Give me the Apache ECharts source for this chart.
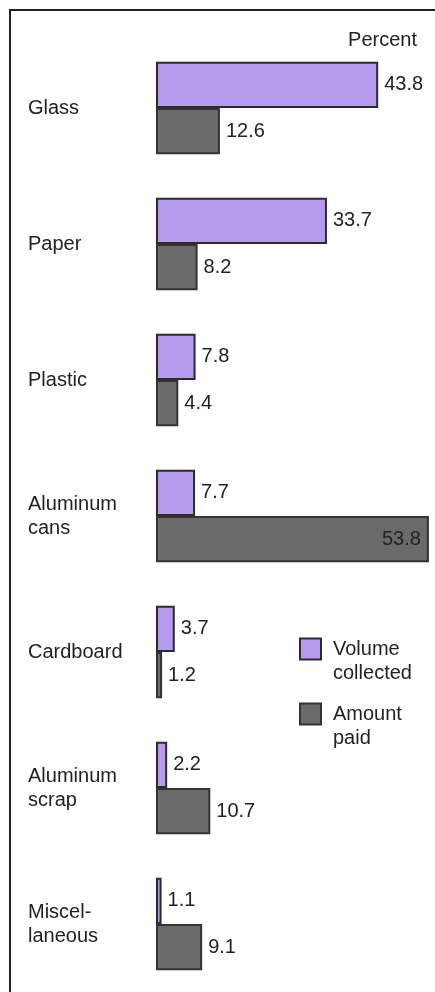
<!DOCTYPE html>
<html>
<head>
<meta http-equiv="content-type" content="text/html; charset=utf-8"/>
<title>Recycling: volume collected vs amount paid</title>
<style type="text/css">body,html{width:100%;height:100%;margin:0;background:#fff}#chart{width:435px;height:992px}</style>
<script src="https://cdn.jsdelivr.net/npm/echarts@6/dist/echarts.min.js"></script>
</head>
<body>
<div id="chart"></div>
<script>
	// categories, top to bottom
	var categories = ['Glass', 'Paper', 'Plastic', 'Aluminum\ncans', 'Cardboard', 'Aluminum\nscrap', 'Miscel-\nlaneous'];
	var seriesNames = ['Volume collected', 'Amount paid'];
	var volume = [43.8, 33.7, 7.8, 7.7, 3.7, 2.2, 1.1];
	var paid = [12.6, 8.2, 4.4, 53.8, 1.2, 10.7, 9.1];

	var font = 'Liberation Sans';
	var fs = 20;
	var chart = echarts.init(document.getElementById('chart'));

	// the long bar gets its label inside
	var paidData = paid.map(function (v) {
		return v > 50 ? {value: v, label: {position: 'insideRight', distance: 8}} : v;
	});

	var option = {
		animation: false,
		title: {
			text: 'Percent',
			right: 18, top: 30, padding: 0,
			textStyle: {fontFamily: font, fontSize: fs, fontWeight: 'normal', color: '#222'}
		},
		legend: {
			orient: 'vertical',
			left: 294, top: 608,
			icon: 'rect',
			itemWidth: 21, itemHeight: 21,
			itemGap: -7,
			// blank first line keeps the icon beside the first word
			formatter: function (name) { return '\n' + name.replace(' ', '\n'); },
			textStyle: {fontFamily: font, fontSize: fs, color: '#222', lineHeight: 24, padding: [0, 0, 0, 7]}
		},
		grid: {left: 156, right: 0, top: 40, bottom: 0},
		xAxis: {type: 'value', min: 0, max: 55, show: false},
		yAxis: {
			type: 'category',
			data: categories,
			inverse: true,
			axisLine: {show: false},
			axisTick: {show: false},
			axisLabel: {align: 'left', margin: 128, fontFamily: font, fontSize: fs, color: '#222', lineHeight: 24}
		},
		series: [
			{
				name: seriesNames[0], type: 'bar', data: volume,
				barGap: '0%', barCategoryGap: '32%',
				itemStyle: {color: '#b69af0', borderColor: '#2b2b2b', borderWidth: 2},
				label: {show: true, position: 'right', distance: 6, fontFamily: font, fontSize: fs, color: '#222'}
			},
			{
				name: seriesNames[1], type: 'bar', data: paidData,
				itemStyle: {color: '#6a6a6a', borderColor: '#333', borderWidth: 2},
				label: {show: true, position: 'right', distance: 6, fontFamily: font, fontSize: fs, color: '#222'}
			}
		],
		graphic: [{
			type: 'polyline',
			shape: {points: [[10, 992], [10, 10], [435, 10]]},
			style: {stroke: '#222', lineWidth: 2, fill: null}
		}]
	};
	chart.setOption(option);
</script>
</body>
</html>
